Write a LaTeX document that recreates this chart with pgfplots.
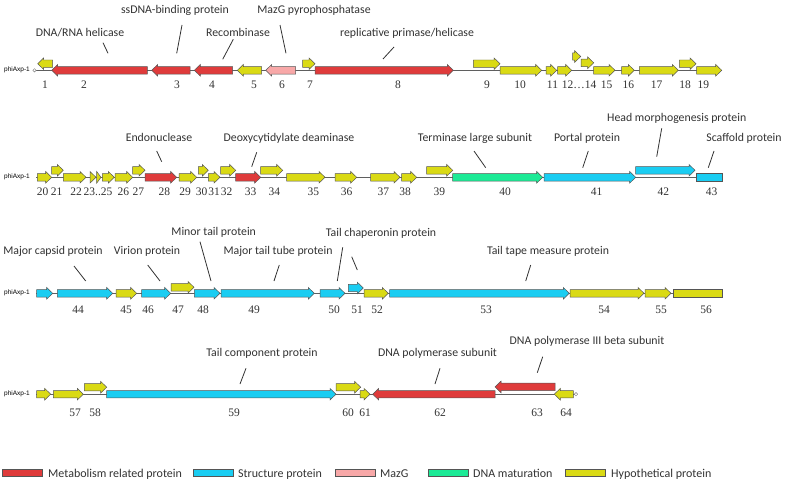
\documentclass[border=0pt]{standalone}
\usepackage{pgfplots}
\pgfplotsset{compat=1.18}
\usepackage{fontspec}
\setmainfont{Carlito}
\newfontfamily\numfont{Liberation Serif}
\newfontfamily\smallfont{Liberation Sans}
\definecolor{mred}{RGB}{223,59,59}
\definecolor{mcyan}{RGB}{26,205,242}
\definecolor{mpink}{RGB}{248,168,168}
\definecolor{mgreen}{RGB}{28,234,150}
\definecolor{myel}{RGB}{218,218,20}
\definecolor{outl}{RGB}{85,85,85}
\definecolor{txt}{RGB}{50,50,50}
\definecolor{bline}{RGB}{95,95,95}
% right-pointing gene: x1 x2 yc colour
\newcommand\gr[4]{%
 \pgfmathsetmacro\xa{#1}\pgfmathsetmacro\xb{#2}\pgfmathsetmacro\xh{#2-min(6,(#2-#1))}%
 \pgfmathsetmacro\ya{#3-3.7}\pgfmathsetmacro\yb{#3+3.7}\pgfmathsetmacro\yc{#3}%
 \pgfmathsetmacro\ha{#3-5.8}\pgfmathsetmacro\hb{#3+5.8}%
 \edef\tmp{\noexpand\addplot[fill=#4,draw=outl,line width=0.5bp] coordinates {(\xa,\ya) (\xh,\ya) (\xh,\ha) (\xb,\yc) (\xh,\hb) (\xh,\yb) (\xa,\yb)} --cycle;}\tmp}
% left-pointing gene
\newcommand\gl[4]{%
 \pgfmathsetmacro\xa{#1}\pgfmathsetmacro\xb{#2}\pgfmathsetmacro\xh{#1+min(6,(#2-#1))}%
 \pgfmathsetmacro\ya{#3-3.7}\pgfmathsetmacro\yb{#3+3.7}\pgfmathsetmacro\yc{#3}%
 \pgfmathsetmacro\ha{#3-5.8}\pgfmathsetmacro\hb{#3+5.8}%
 \edef\tmp{\noexpand\addplot[fill=#4,draw=outl,line width=0.5bp] coordinates {(\xb,\ya) (\xh,\ya) (\xh,\ha) (\xa,\yc) (\xh,\hb) (\xh,\yb) (\xb,\yb)} --cycle;}\tmp}
% no head
\newcommand\gn[4]{%
 \pgfmathsetmacro\xa{#1}\pgfmathsetmacro\xb{#2}%
 \pgfmathsetmacro\ya{#3-3.7}\pgfmathsetmacro\yb{#3+3.7}%
 \edef\tmp{\noexpand\addplot[fill=#4,draw=outl,line width=0.5bp] coordinates {(\xa,\ya) (\xb,\ya) (\xb,\yb) (\xa,\yb)} --cycle;}\tmp}
\newcommand\lab[3]{\node[anchor=base,text=txt,font=\fontsize{11.8bp}{14bp}\selectfont,inner sep=0pt] at (#1,#2) {#3};}
\newcommand\num[3]{\node[anchor=base,text=txt,font=\numfont\fontsize{11.5bp}{13bp}\selectfont,inner sep=0pt] at (#1,#2) {#3};}
\newcommand\ann[4]{\draw[txt,line width=0.8bp] (#1,#2) -- (#3,#4);}
\newcommand\rowlab[1]{\node[anchor=west,text=black,font=\smallfont\fontsize{6.5bp}{8bp}\selectfont,inner sep=0pt] at (4,#1) {phiAxp-1};}
\begin{document}
\begin{tikzpicture}
\begin{axis}[width=787bp,height=483bp,scale only axis,xmin=0,xmax=787,ymin=0,ymax=483,
  y dir=reverse,hide axis,clip=false]
% backbones
\addplot[bline,line width=1.1bp] coordinates {(36,70.3) (721.7,70.3)};
\addplot[bline,line width=1.1bp] coordinates {(36,177.3) (722.7,177.3)};
\addplot[bline,line width=1.1bp] coordinates {(36,293.3) (722.7,293.3)};
\addplot[bline,line width=1.1bp] coordinates {(36,394.2) (575,394.2)};
\draw[gray,fill=white,line width=0.4bp] (34.5,70.3) circle[radius=1.7bp];
\draw[gray,fill=white,line width=0.4bp] (576,394.2) circle[radius=1.7bp];
\rowlab{70.3}\rowlab{177.3}\rowlab{293.3}\rowlab{394.2}
% row 1
\gl{37.7}{52.7}{63.7}{myel}
\gl{51.7}{147.3}{70.3}{mred}
\gl{151.7}{190}{70.3}{mred}
\gl{194.3}{232.7}{70.3}{mred}
\gl{237.3}{261.7}{70.3}{myel}
\gl{265.7}{295.7}{70.3}{mpink}
\gr{302.7}{315}{63.7}{myel}
\gr{315}{453.3}{70.3}{mred}
\gr{473.3}{500}{63.7}{myel}
\gr{500}{541.7}{70.3}{myel}
\gr{546}{556.7}{70.3}{myel}
\gr{557.7}{571.7}{70.3}{myel}
\gr{572.7}{580.7}{56.5}{myel}
\gr{581}{593.7}{62.8}{myel}
\gr{593.7}{615}{70.3}{myel}
\gr{621.7}{634.3}{70.3}{myel}
\gr{639.3}{678.3}{70.3}{myel}
\gr{679.3}{696}{63.7}{myel}
\gr{696.7}{721.7}{70.3}{myel}
% row 2
\gr{37.3}{51.7}{177.3}{myel}
\gr{51.7}{63.3}{170.3}{myel}
\gr{63.3}{86}{177.3}{myel}
\gr{90}{96}{177.3}{myel}
\gr{96.7}{101}{177.3}{myel}
\gr{102.3}{114.3}{177.3}{myel}
\gr{115}{132.7}{177.3}{myel}
\gr{132.7}{145}{170.3}{myel}
\gr{145}{176.7}{177.3}{mred}
\gr{179}{196.7}{177.3}{myel}
\gr{198.3}{208.3}{170.3}{myel}
\gr{208.3}{220}{177.3}{myel}
\gr{220.7}{235.7}{170.3}{myel}
\gr{235.7}{260.7}{177.3}{mred}
\gr{260.7}{282.7}{170.3}{myel}
\gr{286.7}{325}{177.3}{myel}
\gr{335}{356.7}{177.3}{myel}
\gr{370.7}{400}{177.3}{myel}
\gr{401.7}{416.7}{177.3}{myel}
\gr{426.7}{452.7}{170.3}{myel}
\gr{452.7}{542.7}{177.3}{mgreen}
\gr{544}{635.7}{177.3}{mcyan}
\gr{635.7}{695}{170.3}{mcyan}
\gn{696.7}{722.7}{177.3}{mcyan}
% row 3
\gr{36.7}{52.7}{293.3}{mcyan}
\gr{57.3}{112.7}{293.3}{mcyan}
\gr{116}{136.7}{293.3}{myel}
\gr{141.7}{170.7}{293.3}{mcyan}
\gr{171}{194}{287.3}{myel}
\gr{194.3}{220}{293.3}{mcyan}
\gr{221}{314.3}{293.3}{mcyan}
\gr{320}{345}{293.3}{mcyan}
\gr{348.3}{363.3}{288}{mcyan}
\gr{364}{388.3}{293.3}{myel}
\gr{389.5}{569.3}{293.3}{mcyan}
\gr{570}{644}{293.3}{myel}
\gr{645}{671}{293.3}{myel}
\gn{673.3}{722.7}{293.3}{myel}
% row 4
\gr{36.7}{50.7}{394.2}{myel}
\gr{53.3}{83.3}{394.2}{myel}
\gr{84.3}{106.7}{387.2}{myel}
\gr{106.7}{336}{394.2}{mcyan}
\gr{336}{360.7}{387.2}{myel}
\gr{360}{370}{394.2}{myel}
\gl{372.7}{495}{394.2}{mred}
\gl{495}{555}{386.9}{mred}
\gl{554.3}{573.3}{394.2}{myel}
% annotation lines
\ann{103}{42.7}{108}{53.3}
\ann{182}{25}{176.7}{53.3}
\ann{233.3}{39.3}{222.7}{59.3}
\ann{280}{25}{286}{53.3}
\ann{383}{59}{394}{47}
\ann{156.7}{151}{161.7}{161.7}
\ann{256.7}{152.3}{251.7}{166.7}
\ann{474}{151}{485.7}{167.7}
\ann{588.3}{151}{582.7}{167.7}
\ann{661.7}{128.3}{656.7}{156.7}
\ann{714}{151}{708.3}{167.7}
\ann{74}{266}{85.7}{281}
\ann{147.7}{265}{160}{281}
\ann{200}{241.7}{211}{281}
\ann{279.3}{265}{274}{281}
\ann{342.7}{247.3}{337.3}{281}
\ann{351.7}{256.7}{357.3}{270}
\ann{530.7}{265}{525.7}{281}
\ann{246}{368.3}{240}{384}
\ann{440}{368.3}{435}{384}
\ann{542.7}{356.7}{537.3}{372.7}
% labels
\lab{80}{36}{DNA/RNA helicase}
\lab{175}{13.3}{ssDNA-binding protein}
\lab{238}{36}{Recombinase}
\lab{314}{13.3}{MazG pyrophosphatase}
\lab{407}{36}{replicative primase/helicase}
\lab{159}{141.7}{Endonuclease}
\lab{289}{141.7}{Deoxycytidylate deaminase}
\lab{475}{141.7}{Terminase large subunit}
\lab{587}{141.7}{Portal protein}
\lab{676.7}{121.7}{Head morphogenesis protein}
\lab{744}{141.7}{Scaffold protein}
\lab{53}{254}{Major capsid protein}
\lab{147}{254}{Virion protein}
\lab{213.7}{235}{Minor tail protein}
\lab{278}{254}{Major tail tube protein}
\lab{381}{236}{Tail chaperonin protein}
\lab{548}{254}{Tail tape measure protein}
\lab{262}{356.7}{Tail component protein}
\lab{437.5}{356.7}{DNA polymerase subunit}
\lab{587}{344}{DNA polymerase III beta subunit}
% gene numbers
\num{45}{88.5}{1}\num{84}{88.5}{2}\num{177}{88.5}{3}\num{212}{88.5}{4}\num{254}{88.5}{5}
\num{282}{88.5}{6}\num{310}{88.5}{7}\num{398}{88.5}{8}\num{487}{88.5}{9}\num{520}{88.5}{10}
\num{552.5}{88.5}{11}\num{579}{88.5}{12…14}\num{606.5}{88.5}{15}\num{628.3}{88.5}{16}
\num{656.7}{88.5}{17}\num{685}{88.5}{18}\num{703.3}{88.5}{19}
\num{42.7}{195.7}{20}\num{56.7}{195.7}{21}\num{76}{195.7}{22}\num{98}{195.7}{23..25}
\num{123.3}{195.7}{26}\num{138.3}{195.7}{27}\num{164.3}{195.7}{28}\num{185}{195.7}{29}
\num{201.7}{195.7}{30}\num{214}{195.7}{31}\num{226.7}{195.7}{32}\num{250.7}{195.7}{33}
\num{274.3}{195.7}{34}\num{313.3}{195.7}{35}\num{346.7}{195.7}{36}\num{383.3}{195.7}{37}
\num{405}{195.7}{38}\num{439.3}{195.7}{39}\num{505}{195.7}{40}\num{596.7}{195.7}{41}
\num{663.3}{195.7}{42}\num{711.7}{195.7}{43}
\num{78}{313.5}{44}\num{126}{313.5}{45}\num{148}{313.5}{46}\num{178}{313.5}{47}
\num{203}{313.5}{48}\num{254}{313.5}{49}\num{334}{313.5}{50}\num{357}{313.5}{51}
\num{377}{313.5}{52}\num{486}{313.5}{53}\num{604}{313.5}{54}\num{661}{313.5}{55}\num{706}{313.5}{56}
\num{75}{416.7}{57}\num{95}{416.7}{58}\num{234}{416.7}{59}\num{348}{416.7}{60}
\num{365}{416.7}{61}\num{440}{416.7}{62}\num{537}{416.7}{63}\num{566}{416.7}{64}
% legend
\addplot[fill=mred,draw=outl,line width=0.5bp] coordinates {(2,469.5) (42.5,469.5) (42.5,476) (2,476)} --cycle;
\addplot[fill=mcyan,draw=outl,line width=0.5bp] coordinates {(193.5,469.5) (233,469.5) (233,476) (193.5,476)} --cycle;
\addplot[fill=mpink,draw=outl,line width=0.5bp] coordinates {(335,469.5) (375,469.5) (375,476) (335,476)} --cycle;
\addplot[fill=mgreen,draw=outl,line width=0.5bp] coordinates {(428,469.5) (468,469.5) (468,476) (428,476)} --cycle;
\addplot[fill=myel,draw=outl,line width=0.5bp] coordinates {(565,469.5) (605,469.5) (605,476) (565,476)} --cycle;
\begin{scope}[every node/.style={anchor=base west,text=txt,inner sep=0pt,font=\fontsize{12bp}{14bp}\selectfont}]
\node at (48,477) {Metabolism related protein};
\node at (238,477) {Structure protein};
\node at (380,477) {MazG};
\node at (473,477) {DNA maturation};
\node at (611,477) {Hypothetical protein};
\end{scope}
\end{axis}
\pgfresetboundingbox
\path (0,0) rectangle (787bp,483bp);
\end{tikzpicture}
\end{document}
